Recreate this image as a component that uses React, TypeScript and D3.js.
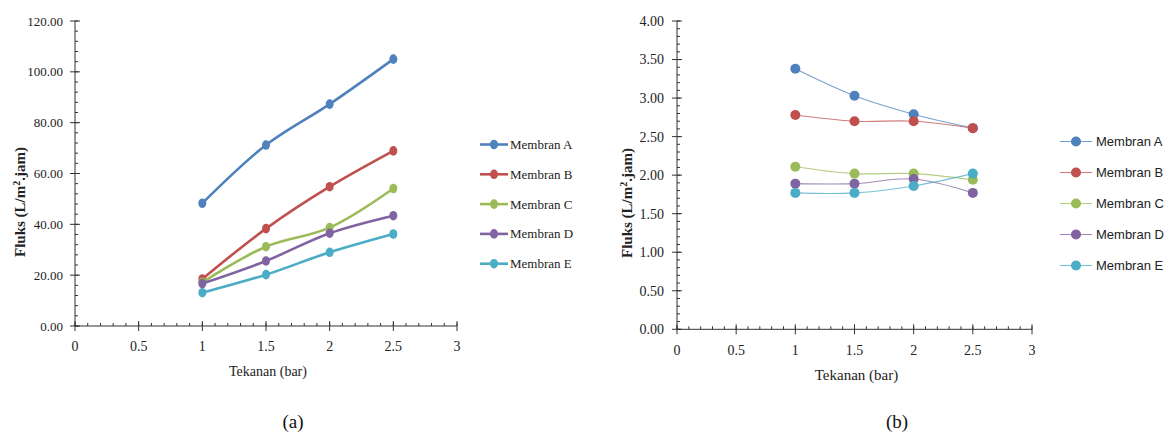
import React from "react";
import * as d3 from "d3";

const pressures = [1, 1.5, 2, 2.5];
const seriesNames = ["Membran A", "Membran B", "Membran C", "Membran D", "Membran E"];
const colors = ["#4f81bd", "#c0504d", "#9bbb59", "#8064a2", "#4bacc6"];

const fluxA_a = [48.3, 71.2, 87.3, 105.0];
const fluxB_a = [18.5, 38.3, 54.8, 68.9];
const fluxC_a = [17.2, 31.2, 38.7, 54.1];
const fluxD_a = [16.7, 25.6, 36.5, 43.4];
const fluxE_a = [13.1, 20.2, 29.0, 36.2];

const fluxA_b = [3.38, 3.03, 2.79, 2.61];
const fluxB_b = [2.78, 2.70, 2.70, 2.61];
const fluxC_b = [2.11, 2.02, 2.02, 1.94];
const fluxD_b = [1.89, 1.89, 1.95, 1.77];
const fluxE_b = [1.77, 1.77, 1.86, 2.02];

const yTicksA = [0, 20, 40, 60, 80, 100, 120];
const yTicksB = [0, 0.5, 1, 1.5, 2, 2.5, 3, 3.5, 4];
const xTicks = [0, 0.5, 1, 1.5, 2, 2.5, 3];

type PanelCfg = {
  x0: number; x1: number; yTop: number; yBot: number;
  yMax: number; yTicks: number[]; yMinorStep: number;
  data: number[][];
  yFont: number; xFont: number; titleFont: number;
  xLabelY: number; xTitleY: number; yTitleX: number; yTitleY: number;
  legendLineX0: number; legendLineX1: number; legendTextX: number; legendY0: number; legendDy: number;
  legendFont: string; legendFontSize: number;
  lineWidth: number; lineOpacity: number; markerRx: number; markerRy: number;
  yLabelGap: number;
};

function Panel({ c }: { c: PanelCfg }) {
  const x = d3.scaleLinear().domain([0, 3]).range([c.x0, c.x1]);
  const y = d3.scaleLinear().domain([0, c.yMax]).range([c.yBot, c.yTop]);
  const line = d3.line<number>()
    .x((_, i) => x(pressures[i]))
    .y((v) => y(v))
    .curve(d3.curveCatmullRom.alpha(0.5));
  const yMinor = d3.range(0, c.yMax + 1e-9, c.yMinorStep);
  const xMinor = d3.range(0, 3 + 1e-9, 0.1);
  const serif = "'Liberation Serif', 'Times New Roman', serif";
  const axisColor = "#333";
  return (
    <g>
      <line x1={c.x0} x2={c.x0} y1={c.yTop} y2={c.yBot} stroke={axisColor} strokeWidth={1} />
      {yMinor.map((v, i) => (
        <line key={"ym" + i} x1={c.x0} x2={c.x0 + 3} y1={y(v)} y2={y(v)} stroke={axisColor} strokeWidth={1} />
      ))}
      {c.yTicks.map((v) => (
        <g key={"yt" + v}>
          <line x1={c.x0 - 5} x2={c.x0 + 5} y1={y(v)} y2={y(v)} stroke={axisColor} strokeWidth={1} />
          <text x={c.x0 - c.yLabelGap} y={y(v)} dy="0.35em" textAnchor="end" fontFamily={serif}
            fontSize={c.yFont} fill="#222">{d3.format(".2f")(v)}</text>
        </g>
      ))}
      <line x1={c.x0} x2={c.x1} y1={c.yBot} y2={c.yBot} stroke={axisColor} strokeWidth={1} />
      {xMinor.map((v, i) => (
        <line key={"xm" + i} x1={x(v)} x2={x(v)} y1={c.yBot} y2={c.yBot - 3} stroke={axisColor} strokeWidth={1} />
      ))}
      {xTicks.map((v) => (
        <g key={"xt" + v}>
          <line x1={x(v)} x2={x(v)} y1={c.yBot - 5} y2={c.yBot + 5} stroke={axisColor} strokeWidth={1} />
          <text x={x(v)} y={c.xLabelY} textAnchor="middle" fontFamily={serif} fontSize={c.xFont} fill="#222">{String(v)}</text>
        </g>
      ))}
      <text x={(c.x0 + c.x1) / 2 + 2} y={c.xTitleY} textAnchor="middle" fontFamily={serif} fontSize={c.titleFont} fill="#222">Tekanan (bar)</text>
      <text transform={`translate(${c.yTitleX},${c.yTitleY}) rotate(-90)`} textAnchor="middle" fontFamily={serif}
        fontSize={15} fontWeight="bold" fill="#222">
        Fluks (L/m<tspan dy={-5} fontSize={10}>2</tspan><tspan dy={5}>.jam)</tspan>
      </text>
      {c.data.map((vals, si) => (
        <g key={"s" + si}>
          <path d={line(vals) || ""} fill="none" stroke={colors[si]} strokeWidth={c.lineWidth} strokeOpacity={c.lineOpacity} />
          {vals.map((v, i) => (
            <ellipse key={i} cx={x(pressures[i])} cy={y(v)} rx={c.markerRx} ry={c.markerRy} fill={colors[si]} />
          ))}
        </g>
      ))}
      {seriesNames.map((n, i) => {
        const ly = c.legendY0 + i * c.legendDy;
        return (
          <g key={"l" + i}>
            <line x1={c.legendLineX0} x2={c.legendLineX1} y1={ly} y2={ly} stroke={colors[i]} strokeWidth={c.lineWidth} strokeOpacity={c.lineOpacity} />
            <ellipse cx={(c.legendLineX0 + c.legendLineX1) / 2} cy={ly} rx={c.markerRx} ry={c.markerRy} fill={colors[i]} />
            <text x={c.legendTextX} y={ly} dy="0.35em" fontFamily={c.legendFont} fontSize={c.legendFontSize} fill="#222">{n}</text>
          </g>
        );
      })}
    </g>
  );
}

const panelA: PanelCfg = {
  x0: 75, x1: 457, yTop: 21, yBot: 326, yMax: 120, yTicks: yTicksA, yMinorStep: 4,
  data: [fluxA_a, fluxB_a, fluxC_a, fluxD_a, fluxE_a],
  yFont: 13, xFont: 14, titleFont: 14,
  xLabelY: 351, xTitleY: 376, yTitleX: 25, yTitleY: 202,
  legendLineX0: 480, legendLineX1: 508, legendTextX: 510, legendY0: 144.5, legendDy: 29.8,
  legendFont: "'Liberation Serif', 'Times New Roman', serif", legendFontSize: 13,
  lineWidth: 2.6, lineOpacity: 1, markerRx: 4, markerRy: 4.8, yLabelGap: 12,
};

const panelB: PanelCfg = {
  x0: 677, x1: 1032, yTop: 21, yBot: 329.3, yMax: 4, yTicks: yTicksB, yMinorStep: 0.1,
  data: [fluxA_b, fluxB_b, fluxC_b, fluxD_b, fluxE_b],
  yFont: 14, xFont: 14, titleFont: 15,
  xLabelY: 355, xTitleY: 380, yTitleX: 632, yTitleY: 203,
  legendLineX0: 1060, legendLineX1: 1092, legendTextX: 1096, legendY0: 141.5, legendDy: 31,
  legendFont: "'Liberation Sans', Arial, sans-serif", legendFontSize: 13,
  lineWidth: 1.1, lineOpacity: 0.75, markerRx: 5, markerRy: 5, yLabelGap: 13,
};

export default function App() {
  const serif = "'Liberation Serif', 'Times New Roman', serif";
  return (
    <svg width={1173} height={436} style={{ position: "absolute", left: 0, top: 0, background: "#fff" }}>
      <rect width={1173} height={436} fill="#fff" />
      <Panel c={panelA} />
      <Panel c={panelB} />
      <text x={293} y={428} textAnchor="middle" fontFamily={serif} fontSize={19} fill="#111">(a)</text>
      <text x={897} y={428} textAnchor="middle" fontFamily={serif} fontSize={19} fill="#111">(b)</text>
    </svg>
  );
}
